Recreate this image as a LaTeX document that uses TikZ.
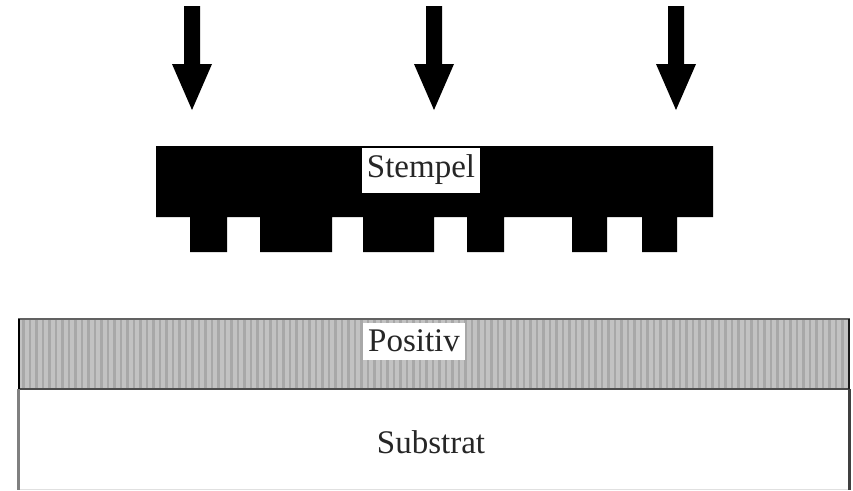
\documentclass[tikz,border=0pt]{standalone}
\usepackage{fontspec}
\setmainfont{Liberation Serif}
\begin{document}
\begin{tikzpicture}[x=1pt,y=-1pt,
  label/.style={font=\fontsize{33}{36}\selectfont, text=black!85, inner sep=0pt},
  presslabel/.style={label, fill=white, minimum width=118, minimum height=45},
  downarrow/.pic={\fill[black] (-8,6) -- (8,6) -- (8,64) -- (20,64) -- (0,110) -- (-20,64) -- (-8,64) -- cycle;}]
\useasboundingbox (0,0) rectangle (853,490);
\fill[white] (0,0) rectangle (853,490);

% pressing direction
\foreach \ax in {192,434,676} \pic at (\ax,0) {downarrow};

% stamp with its relief
\fill[black] (156,146) -- (713,146) -- (713,217) -- (677,217) -- (677,252) -- (642,252) -- (642,217)
  -- (607,217) -- (607,252) -- (572,252) -- (572,217) -- (504,217) -- (504,252) -- (467,252) -- (467,217)
  -- (434,217) -- (434,252) -- (363,252) -- (363,217) -- (332,217) -- (332,252) -- (260,252) -- (260,217)
  -- (227,217) -- (227,252) -- (190,252) -- (190,217) -- (156,217) -- cycle;
\node[presslabel] (stempel) at (421,170) {Stempel};

% resist layer with vertical hatching
\fill[black!24] (18,319) rectangle (850,389);
\foreach \sx in {22,28.5,...,846} \fill[black!34] (\sx,319) rectangle ++(2.5,70);
\draw[black!62, line width=2] (18,319) -- (850,319);
\draw[black!70, line width=2] (18,389) -- (850,389);
\draw[black, line width=2.5] (19,319) -- (19,389);
\draw[black!90, line width=2.5] (849,319) -- (849,389);
\node[label, fill=white, minimum width=102, minimum height=37] (positiv) at (414,341) {Positiv};

% substrate
\draw[black!50, line width=3] (18.5,389) -- (18.5,490);
\draw[black!75, line width=2.5] (849.5,389) -- (849.5,490);
\draw[black!12, line width=1] (20,489.5) -- (848,489.5);
\node[label] (substrat) at (431,442) {Substrat};
\end{tikzpicture}
\end{document}
